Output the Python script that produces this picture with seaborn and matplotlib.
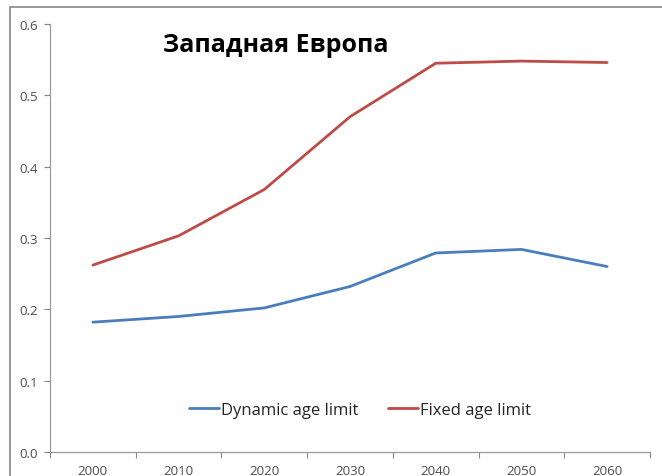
import matplotlib
matplotlib.use("Agg")
import matplotlib.pyplot as plt
from matplotlib.patches import Rectangle
import seaborn as sns
import pandas as pd
import numpy as np

years = [2000, 2010, 2020, 2030, 2040, 2050, 2060]
dynamic_limit = [0.182, 0.190, 0.202, 0.232, 0.279, 0.284, 0.260]
fixed_limit = [0.262, 0.303, 0.368, 0.470, 0.545, 0.548, 0.546]
series_names = ["Dynamic age limit", "Fixed age limit"]
series_colors = ["#4A7EBB", "#BE4B48"]
title_text = "Западная Европа"

df = pd.DataFrame({
    "year": years * 2,
    "value": dynamic_limit + fixed_limit,
    "series": [series_names[0]] * len(years) + [series_names[1]] * len(years),
})

sns.set_theme(style="white")
plt.rcParams["font.family"] = ["Open Sans", "DejaVu Sans"]

fig = plt.figure(figsize=(6.62, 4.77), dpi=100)
ax = fig.add_axes([50 / 662, 24 / 477, 600 / 662, 428 / 477])

sns.lineplot(data=df, x="year", y="value", hue="series",
             palette=dict(zip(series_names, series_colors)),
             linewidth=2.0, ax=ax, legend=True)

ax.set_xlim(1995, 2065)
ax.set_ylim(0, 0.6)
ax.set_yticks(np.arange(0, 0.61, 0.1))
ax.set_yticklabels([f"{v:.1f}" for v in np.arange(0, 0.61, 0.1)])
ax.set_xticks(years)
ax.set_xticks(np.arange(1995, 2066, 10), minor=True)
ax.tick_params(axis="x", which="major", length=0, pad=9, labelsize=9.5, labelcolor="#4d4d4d")
ax.tick_params(axis="x", which="minor", length=4, width=0.8, color="#868686", direction="out", bottom=True)
ax.tick_params(axis="y", length=4, width=0.8, color="#868686", direction="out", left=True,
               labelsize=9.5, labelcolor="#4d4d4d", pad=5)
ax.set_xlabel("")
ax.set_ylabel("")

for side in ["top", "right"]:
    ax.spines[side].set_visible(False)
for side in ["left", "bottom"]:
    ax.spines[side].set_color("#9a9a9a")
    ax.spines[side].set_linewidth(0.9)

leg = ax.legend(loc="center", bbox_to_anchor=(360 / 662, 1 - 411 / 477),
                bbox_transform=fig.transFigure, ncol=2, frameon=False,
                fontsize=12, handlelength=1.8, handletextpad=0.1, columnspacing=1.8)
for t in leg.get_texts():
    t.set_color("#262626")

fig.text(276 / 662, 1 - 45 / 477, title_text, ha="center", va="center",
         fontsize=18, fontweight="bold", color="black")

# outer chart frame
fig.patches.append(Rectangle((10 / 662, -0.1), 1.2, 1.1 - 8 / 477,
                             transform=fig.transFigure, fill=False,
                             edgecolor="#868686", linewidth=1.2))

fig.savefig("out.png", dpi=100)
